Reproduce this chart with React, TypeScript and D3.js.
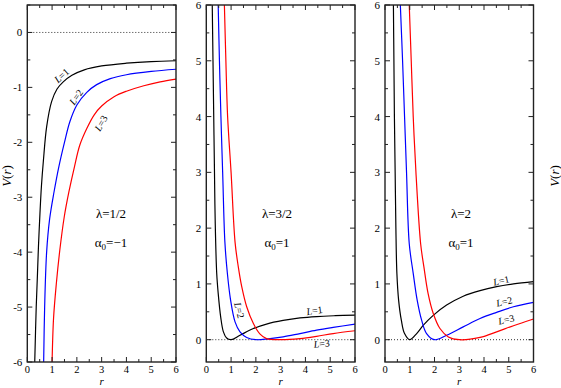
import React from "react";
import * as d3 from "d3";

// lambda = 1/2, alpha0 = -1  ([r, V])
const halfL1: [number, number][] = [[0.3, -6], [0.36, -5.0], [0.41, -4.4], [0.45, -3.9], [0.51, -3.3], [0.57, -2.8], [0.65, -2.33], [0.78, -1.72], [0.98, -1.26], [1.2, -1.03], [1.45, -0.9], [1.8, -0.78], [2.3, -0.68], [3.0, -0.61], [4.0, -0.56], [5.0, -0.53], [6, -0.515]];
const halfL2: [number, number][] = [[0.66, -6], [0.7, -5.0], [0.78, -4.0], [0.9, -3.4], [1.08, -2.9], [1.27, -2.45], [1.5, -2.0], [1.72, -1.62], [2.0, -1.32], [2.4, -1.09], [2.8, -0.95], [3.35, -0.84], [4.0, -0.77], [5.0, -0.71], [6, -0.67]];
const halfL3: [number, number][] = [[1.0, -6], [1.06, -5.2], [1.17, -4.58], [1.31, -3.97], [1.49, -3.36], [1.68, -2.9], [1.9, -2.45], [2.12, -2.05], [2.4, -1.75], [2.7, -1.5], [3.0, -1.34], [3.5, -1.17], [4.0, -1.07], [4.7, -0.97], [5.36, -0.9], [6, -0.85]];

// lambda = 3/2, alpha0 = 1
const threeHalfL1: [number, number][] = [[0.24, 6], [0.27, 5], [0.3, 4], [0.33, 3], [0.36, 2.1], [0.42, 1.19], [0.48, 0.83], [0.58, 0.41], [0.69, 0.14], [0.82, 0.03], [1.0, 0], [1.36, 0.08], [1.9, 0.2], [2.43, 0.28], [3.1, 0.345], [3.78, 0.39], [4.45, 0.415], [5.2, 0.43], [6, 0.44]];
const threeHalfL2: [number, number][] = [[0.48, 6], [0.53, 5], [0.59, 4], [0.66, 3], [0.75, 1.75], [0.85, 1.19], [0.98, 0.71], [1.16, 0.32], [1.36, 0.14], [1.63, 0.04], [2.0, 0], [2.5, 0.015], [3.1, 0.05], [3.78, 0.11], [4.45, 0.17], [5.12, 0.22], [6, 0.28]];
const threeHalfL3: [number, number][] = [[0.73, 6], [0.79, 5], [0.86, 4], [1.0, 3], [1.16, 1.75], [1.29, 1.31], [1.43, 0.95], [1.63, 0.59], [1.9, 0.29], [2.17, 0.1], [2.43, 0.02], [3.0, 0], [3.78, 0.02], [4.45, 0.06], [5.12, 0.11], [6, 0.16]];

// lambda = 2, alpha0 = 1
const twoL1: [number, number][] = [[0.34, 6], [0.36, 5], [0.38, 4], [0.41, 3], [0.44, 2.0], [0.48, 1.19], [0.55, 0.71], [0.66, 0.35], [0.79, 0.11], [1.0, 0], [1.28, 0.11], [1.55, 0.26], [1.96, 0.44], [2.49, 0.62], [3.16, 0.78], [3.84, 0.88], [4.51, 0.95], [5.19, 1.0], [6, 1.04]];
const twoL2: [number, number][] = [[0.62, 6], [0.71, 5], [0.79, 4], [0.87, 3], [0.98, 1.72], [1.14, 1.19], [1.3, 0.71], [1.48, 0.35], [1.68, 0.11], [2.0, 0], [2.49, 0.08], [3.16, 0.23], [3.84, 0.38], [4.51, 0.49], [5.19, 0.59], [6, 0.67]];
const twoL3: [number, number][] = [[0.98, 6], [1.06, 5], [1.14, 4], [1.25, 3], [1.44, 1.72], [1.57, 1.31], [1.74, 0.83], [1.95, 0.47], [2.22, 0.2], [2.56, 0.05], [3.0, 0], [3.84, 0.04], [4.51, 0.14], [5.19, 0.25], [6, 0.37]];

const xTicks = [0, 1, 2, 3, 4, 5, 6];
const negYTicks = [0, -1, -2, -3, -4, -5, -6];
const posYTicks = [0, 1, 2, 3, 4, 5, 6];
const curveColors = ["#000000", "#0000ff", "#ff0000"];

const W = 561;
const H = 388;
const TOP = 5;
const BOTTOM = 362;
const serif = "Liberation Serif, DejaVu Serif, serif";

type Lbl = { n: number; x: number; y: number; a: number };

function Panel(props: {
  id: string;
  x0: number;
  x1: number;
  yDom: [number, number];
  yTicks: number[];
  curves: [number, number][][];
  lambda: string;
  alpha: string;
  annX: number;
  labels: Lbl[];
}) {
  const { id, x0, x1, yDom, yTicks, curves, lambda, alpha, annX, labels } = props;
  const x = d3.scaleLinear().domain([0, 6]).range([x0, x1]);
  const y = d3.scaleLinear().domain(yDom).range([BOTTOM, TOP]);
  const line = d3
    .line<[number, number]>()
    .x((d) => x(d[0]))
    .y((d) => y(d[1]))
    .curve(d3.curveCatmullRom.alpha(0.5));

  const xMinor = d3.range(0, 6.01, 0.5);
  const yMinor = d3.range(Math.ceil(yDom[0] * 2) / 2, yDom[1] + 0.01, 0.5);
  const frame = "#222";

  return (
    <g>
      <defs>
        <clipPath id={id}>
          <rect x={x0} y={TOP} width={x1 - x0} height={BOTTOM - TOP} />
        </clipPath>
      </defs>
      {/* dotted zero line */}
      <line x1={x0} x2={x1} y1={y(0)} y2={y(0)} stroke="#333" strokeWidth={1} strokeDasharray="1,2" />
      <g clipPath={`url(#${id})`}>
        {curves.map((c, i) => (
          <path key={i} d={line(c) || ""} fill="none" stroke={curveColors[i]} strokeWidth={1.2} />
        ))}
      </g>
      {/* ticks */}
      {xMinor.map((t) => {
        const len = Number.isInteger(t) ? 5 : 3;
        return (
          <g key={"x" + t} stroke={frame} strokeWidth={1}>
            <line x1={x(t)} x2={x(t)} y1={BOTTOM} y2={BOTTOM - len} />
            <line x1={x(t)} x2={x(t)} y1={TOP} y2={TOP + len} />
          </g>
        );
      })}
      {yMinor.map((t) => {
        const len = Number.isInteger(t) ? 5 : 3;
        return (
          <g key={"y" + t} stroke={frame} strokeWidth={1}>
            <line x1={x0} x2={x0 + len} y1={y(t)} y2={y(t)} />
            <line x1={x1} x2={x1 - len} y1={y(t)} y2={y(t)} />
          </g>
        );
      })}
      <rect x={x0} y={TOP} width={x1 - x0} height={BOTTOM - TOP} fill="none" stroke={frame} strokeWidth={1.4} />
      {/* tick labels */}
      <g style={{ fontFamily: serif }} fontSize={11} fill="#000">
        {xTicks.map((t) => (
          <text key={t} x={x(t)} y={373} fontSize={10.5} textAnchor="middle">
            {t}
          </text>
        ))}
        {yTicks.map((t) => (
          <text key={t} x={x0 - 5} y={y(t) + 4} textAnchor="end">
            {t < 0 ? "-" + Math.abs(t) : t}
          </text>
        ))}
      </g>
      <text x={(x0 + x1) / 2} y={385} textAnchor="middle" style={{ fontFamily: serif }} fontSize={11} fontStyle="italic">
        r
      </text>
      {/* annotations */}
      <g style={{ fontFamily: serif }} fontSize={13}>
        <text x={annX} y={218} textAnchor="middle">
          {"\u03bb=" + lambda}
        </text>
        <text x={annX} y={247} textAnchor="middle">
          {"\u03b1"}
          <tspan fontSize={9} dy={3}>0</tspan>
          <tspan dy={-3}>{"=" + alpha}</tspan>
        </text>
      </g>
      <g style={{ fontFamily: serif }} fontSize={10}>
        {labels.map((l) => (
          <text key={l.n} transform={`translate(${l.x},${l.y}) rotate(${l.a})`} textAnchor="middle">
            <tspan fontStyle="italic">L</tspan>
            {"=" + l.n}
          </text>
        ))}
      </g>
    </g>
  );
}

export default function App() {
  return (
    <svg width={W} height={H} style={{ position: "absolute", left: 0, top: 0, background: "#fff" }}>
      <Panel
        id="clipA"
        x0={27.3}
        x1={176}
        yDom={[-6, 0.5]}
        yTicks={negYTicks}
        curves={[halfL1, halfL2, halfL3]}
        lambda="1/2"
        alpha={"\u22121"}
        annX={111}
        labels={[
          { n: 1, x: 64, y: 78, a: -42 },
          { n: 2, x: 79, y: 99, a: -55 },
          { n: 3, x: 104, y: 125, a: -60 },
        ]}
      />
      <Panel
        id="clipB"
        x0={206.3}
        x1={355}
        yDom={[-0.4, 6]}
        yTicks={posYTicks}
        curves={[threeHalfL1, threeHalfL2, threeHalfL3]}
        lambda="3/2"
        alpha="1"
        annX={277}
        labels={[
          { n: 1, x: 315, y: 314, a: -8 },
          { n: 2, x: 236, y: 311, a: 76 },
          { n: 3, x: 322, y: 347, a: -5 },
        ]}
      />
      <Panel
        id="clipC"
        x0={385}
        x1={533.5}
        yDom={[-0.4, 6]}
        yTicks={posYTicks}
        curves={[twoL1, twoL2, twoL3]}
        lambda="2"
        alpha="1"
        annX={461}
        labels={[
          { n: 1, x: 502, y: 284, a: -12 },
          { n: 2, x: 505, y: 305, a: -12 },
          { n: 3, x: 507, y: 323, a: -12 },
        ]}
      />
      <g style={{ fontFamily: serif }} fontSize={13}>
        <text transform="translate(11,176) rotate(-90)" textAnchor="middle">
          <tspan fontStyle="italic">V</tspan>(<tspan fontStyle="italic">r</tspan>)
        </text>
        <text transform="translate(559,176) rotate(-90)" textAnchor="middle">
          <tspan fontStyle="italic">V</tspan>(<tspan fontStyle="italic">r</tspan>)
        </text>
      </g>
    </svg>
  );
}
